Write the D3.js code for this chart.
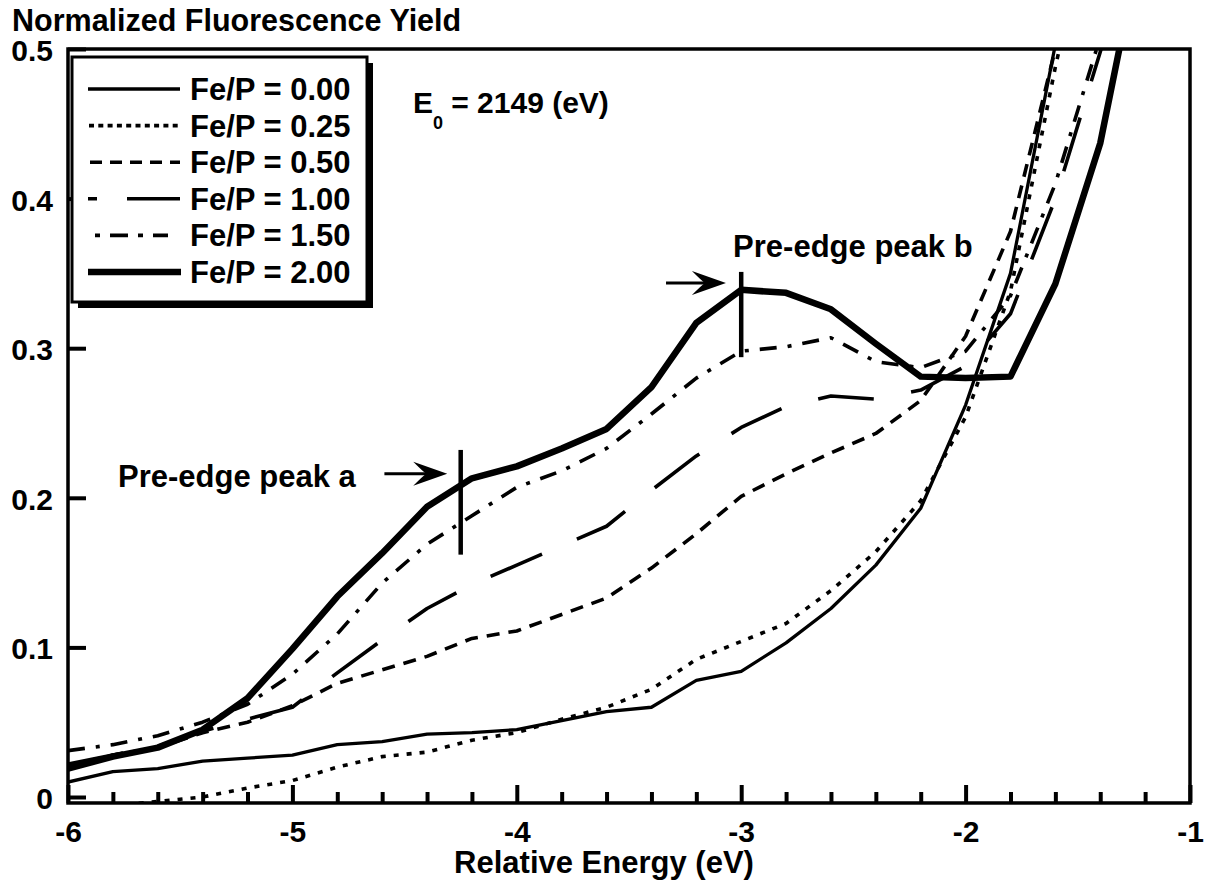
<!DOCTYPE html>
<html>
<head>
<meta charset="utf-8">
<script src="https://cdn.jsdelivr.net/npm/d3@7"></script>
<style>
  body { margin: 0; background: #fff; }
  text { font-family: "Liberation Sans", Arial, Helvetica, sans-serif; font-weight: bold; fill: #000; }
</style>
</head>
<body>
<div id="chart"></div>
<script>
// relative energy (eV), one reading every 0.2 eV
const energy = [-6.0, -5.8, -5.6, -5.4, -5.2, -5.0, -4.8, -4.6, -4.4, -4.2, -4.0, -3.8, -3.6,
  -3.4, -3.2, -3.0, -2.8, -2.6, -2.4, -2.2, -2.0, -1.8, -1.6, -1.4, -1.2];

// normalized fluorescence yield for each Fe/P ratio
const fe000 = [0.010, 0.017, 0.019, 0.024, 0.026, 0.028, 0.035, 0.037, 0.042, 0.043, 0.045, 0.051, 0.057,
  0.060, 0.078, 0.084, 0.103, 0.126, 0.155, 0.193, 0.262, 0.350, 0.503, null, null];
const fe025 = [null, -0.006, -0.003, 0.000, 0.006, 0.011, 0.020, 0.027, 0.030, 0.038, 0.043, 0.052, 0.060,
  0.072, 0.092, 0.104, 0.116, 0.138, 0.164, 0.198, 0.254, 0.338, 0.488, 0.620, null];
const fe050 = [0.021, 0.028, 0.033, 0.043, 0.050, 0.061, 0.076, 0.085, 0.094, 0.106, 0.111, 0.122, 0.133,
  0.153, 0.176, 0.201, 0.216, 0.230, 0.243, 0.265, 0.308, 0.378, 0.500, 0.630, null];
const fe100 = [0.022, 0.028, 0.034, 0.044, 0.052, 0.060, 0.083, 0.105, 0.126, 0.142, 0.155, 0.168, 0.181,
  0.205, 0.228, 0.247, 0.261, 0.268, 0.266, 0.272, 0.288, 0.323, 0.400, 0.498, 0.600];
const fe150 = [0.031, 0.035, 0.041, 0.050, 0.062, 0.082, 0.109, 0.143, 0.169, 0.188, 0.207, 0.218, 0.233,
  0.256, 0.280, 0.298, 0.301, 0.307, 0.291, 0.287, 0.298, 0.335, 0.410, 0.508, 0.610];
const fe200 = [0.019, 0.027, 0.033, 0.045, 0.066, 0.099, 0.134, 0.163, 0.194, 0.213, 0.221, 0.233, 0.246,
  0.274, 0.317, 0.339, 0.337, 0.326, 0.303, 0.281, 0.280, 0.281, 0.343, 0.437, 0.585];

const seriesNames = ["Fe/P = 0.00", "Fe/P = 0.25", "Fe/P = 0.50", "Fe/P = 1.00", "Fe/P = 1.50", "Fe/P = 2.00"];
const seriesValues = [fe000, fe025, fe050, fe100, fe150, fe200];

const xTicks = [-6, -5, -4, -3, -2, -1];
const yTicks = [0, 0.1, 0.2, 0.3, 0.4, 0.5];

// line styles: width, dash in plot, dash in legend
const styles = [
  { w: 3.3, dash: null, lgDash: null, lgFrom: 88, lgTo: 180, lgOff: 0 },
  { w: 3.6, dash: "5 8", lgDash: "5 4.3", lgFrom: 89, lgTo: 178, lgOff: 0 },
  { w: 3.6, dash: "13 9", lgDash: "12 8", lgFrom: 90, lgTo: 180, lgOff: 0 },
  { w: 3.6, dash: "56 38", lgDash: "53 30", lgFrom: 88, lgTo: 180, lgOff: 44 },
  { w: 3.6, dash: "17 11 4 11", lgDash: "5 10 18 10", lgFrom: 95, lgTo: 168, lgOff: 0 },
  { w: 6.5, dash: null, lgDash: null, lgFrom: 88, lgTo: 181, lgOff: 0 },
];

const W = 1213, H = 890;
const svg = d3.select("#chart").append("svg").attr("width", W).attr("height", H);

const x = d3.scaleLinear().domain([-6, -1]).range([68, 1190]);
const y = d3.scaleLinear().domain([0, 0.5]).range([797, 49]);
const yBottom = -0.004; // frame sits just below zero

// clip for curves
svg.append("defs").append("clipPath").attr("id", "plotclip")
  .append("rect")
  .attr("x", x(-6)).attr("y", y(0.5))
  .attr("width", x(-1) - x(-6)).attr("height", y(yBottom) - y(0.5));

// y axis (ticks point inward)
svg.append("g")
  .attr("transform", "translate(" + x(-6) + ",0)")
  .call(d3.axisLeft(y).tickValues(yTicks).tickSize(-18).tickPadding(15)
    .tickFormat(d => d === 0 ? "0" : d3.format(".1f")(d)))
  .call(g => g.select(".domain").remove())
  .call(g => g.selectAll("line").attr("stroke", "#000").attr("stroke-width", 4))
  .call(g => g.selectAll("text").attr("font-size", 30).attr("font-family", null).attr("dy", "0.38em"));

// x axis minor ticks every 0.2
const minor = d3.range(-5.8, -1.05, 0.2).filter(v => Math.abs(v - Math.round(v)) > 0.01);
svg.append("g")
  .attr("transform", "translate(0," + y(yBottom) + ")")
  .call(d3.axisBottom(x).tickValues(minor).tickSize(-11).tickFormat(""))
  .call(g => g.select(".domain").remove())
  .call(g => g.selectAll("line").attr("stroke", "#000").attr("stroke-width", 4));

svg.append("g")
  .attr("transform", "translate(0," + y(yBottom) + ")")
  .call(d3.axisBottom(x).tickValues(xTicks).tickSize(-18).tickPadding(18).tickFormat(d3.format("d")))
  .call(g => g.select(".domain").remove())
  .call(g => g.selectAll("line").attr("stroke", "#000").attr("stroke-width", 4))
  .call(g => g.selectAll("text").attr("font-size", 30).attr("font-family", null).text(d => "-" + Math.abs(d)));

// frame
svg.append("rect")
  .attr("x", x(-6)).attr("y", y(0.5))
  .attr("width", x(-1) - x(-6)).attr("height", y(yBottom) - y(0.5))
  .attr("fill", "none").attr("stroke", "#000").attr("stroke-width", 3.5);

// curves
const line = d3.line()
  .defined(d => d[1] !== null)
  .x(d => x(d[0]))
  .y(d => y(d[1]));

const curves = svg.append("g").attr("clip-path", "url(#plotclip)");
seriesValues.forEach((vals, i) => {
  const pts = energy.map((e, j) => [e, vals[j]]);
  curves.append("path")
    .datum(pts)
    .attr("fill", "none")
    .attr("stroke", "#000")
    .attr("stroke-width", styles[i].w)
    .attr("stroke-linejoin", "round")
    .attr("stroke-dasharray", styles[i].dash)
    .attr("d", line);
});

// annotations
const markA = { e: -4.25, lo: 0.162, hi: 0.232 };
const markB = { e: -3.0, lo: 0.294, hi: 0.351 };
[markA, markB].forEach(m => {
  svg.append("line")
    .attr("x1", x(m.e)).attr("x2", x(m.e))
    .attr("y1", y(m.lo)).attr("y2", y(m.hi))
    .attr("stroke", "#000").attr("stroke-width", 4.5);
});

const arrows = [
  { from: -4.59, to: -4.31, v: 0.216 },
  { from: -3.335, to: -3.068, v: 0.3436 },
];
arrows.forEach(a => {
  const tx = x(a.to), ty = y(a.v);
  svg.append("line")
    .attr("x1", x(a.from)).attr("x2", tx - 20)
    .attr("y1", ty).attr("y2", ty)
    .attr("stroke", "#000").attr("stroke-width", 3);
  svg.append("path")
    .attr("d", `M${tx},${ty} L${tx - 34},${ty - 12} Q${tx - 24},${ty - 2} ${tx - 21},${ty} Q${tx - 24},${ty + 2} ${tx - 34},${ty + 12} Z`)
    .attr("fill", "#000");
});

svg.append("text").attr("x", x(-5.777)).attr("y", y(0.207)).attr("font-size", 31).text("Pre-edge peak a");
svg.append("text").attr("x", x(-3.036)).attr("y", y(0.361)).attr("font-size", 31).text("Pre-edge peak b");

const e0 = svg.append("text").attr("x", x(-4.463)).attr("y", y(0.457)).attr("font-size", 30);
e0.append("tspan").text("E");
e0.append("tspan").attr("font-size", 18).attr("dy", 16).text("0");
e0.append("tspan").attr("dy", -16).text(" = 2149 (eV)");

// axis titles
svg.append("text").attr("x", 12).attr("y", 31).attr("font-size", 30.5).text("Normalized Fluorescence Yield");
svg.append("text").attr("x", 604).attr("y", 873).attr("text-anchor", "middle").attr("font-size", 31)
  .text("Relative Energy (eV)");

// legend with drop shadow
const lg = { x: 72, y: 57, w: 295, h: 245, sh: 6 };
svg.append("rect").attr("x", lg.x + lg.sh).attr("y", lg.y + lg.sh)
  .attr("width", lg.w).attr("height", lg.h).attr("fill", "#000");
svg.append("rect").attr("x", lg.x).attr("y", lg.y)
  .attr("width", lg.w).attr("height", lg.h)
  .attr("fill", "#fff").attr("stroke", "#000").attr("stroke-width", 3);

const rowY = d3.scaleLinear().domain([0, 5]).range([89, 272]);
seriesNames.forEach((name, i) => {
  const s = styles[i];
  svg.append("line")
    .attr("x1", s.lgFrom).attr("x2", s.lgTo)
    .attr("y1", rowY(i)).attr("y2", rowY(i))
    .attr("stroke", "#000").attr("stroke-width", s.w)
    .attr("stroke-dasharray", s.lgDash)
    .attr("stroke-dashoffset", s.lgOff);
  svg.append("text")
    .attr("x", 190).attr("y", rowY(i) + 11)
    .attr("font-size", 31)
    .text(name);
});
</script>
</body>
</html>
